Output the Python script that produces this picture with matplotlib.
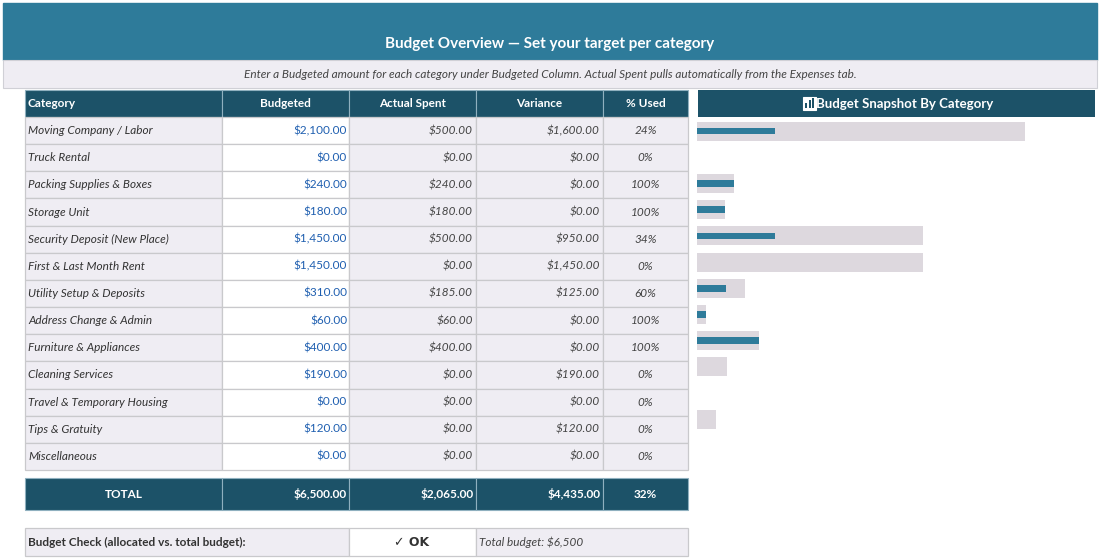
import matplotlib
matplotlib.use("Agg")
import matplotlib.pyplot as plt
from matplotlib.patches import Rectangle

plt.rcParams['font.family'] = ['Lato', 'DejaVu Sans']

categories = ["Moving Company / Labor", "Truck Rental", "Packing Supplies & Boxes", "Storage Unit",
              "Security Deposit (New Place)", "First & Last Month Rent", "Utility Setup & Deposits",
              "Address Change & Admin", "Furniture & Appliances", "Cleaning Services",
              "Travel & Temporary Housing", "Tips & Gratuity", "Miscellaneous"]
budgeted = [2100, 0, 240, 180, 1450, 1450, 310, 60, 400, 190, 0, 120, 0]
actual = [500, 0, 240, 180, 500, 0, 185, 60, 400, 0, 0, 0, 0]
variance = [1600, 0, 0, 0, 950, 1450, 125, 0, 0, 190, 0, 120, 0]
pct_used = ["24%", "0%", "100%", "100%", "34%", "0%", "60%", "100%", "100%", "0%", "0%", "0%", "0%"]
headers = ["Category", "Budgeted", "Actual Spent", "Variance", "% Used"]
totals = ["TOTAL", "$6,500.00", "$2,065.00", "$4,435.00", "32%"]

DARK = "#1c5268"; TEAL = "#2e7b9a"; LIGHT = "#efedf3"; GRID = "#c9c9cc"; GRAYBAR = "#ddd8de"

fig = plt.figure(figsize=(11, 5.6), dpi=100)
ax = fig.add_axes([0, 0, 1, 1])
ax.set_xlim(0, 1100); ax.set_ylim(560, 0); ax.axis('off')

def money(v):
    return f"${v:,.2f}"

ax.add_patch(Rectangle((3, 3), 1094, 57, color=TEAL))
ax.text(550, 44, "Budget Overview — Set your target per category", color="white", fontsize=11,
        fontweight='bold', ha='center', va='center')
ax.add_patch(Rectangle((3, 60), 1094, 28, facecolor=LIGHT, edgecolor="#d0d0d6", lw=0.8))
ax.text(550, 74, "Enter a Budgeted amount for each category under Budgeted Column. Actual Spent pulls automatically from the Expenses tab.",
        color="#444444", fontsize=8.5, style='italic', ha='center', va='center')

cols = [25, 222, 349, 476, 603, 688]
hy, hh = 90, 27
for i in range(5):
    ax.add_patch(Rectangle((cols[i], hy), cols[i+1]-cols[i], hh, facecolor=DARK, edgecolor="#8fb0bf", lw=0.8))
    if i == 0:
        ax.text(cols[0]+3, hy+hh/2, headers[i], color='white', fontsize=8.5, fontweight='bold', va='center')
    else:
        ax.text((cols[i]+cols[i+1])/2, hy+hh/2, headers[i], color='white', fontsize=8.5, fontweight='bold', ha='center', va='center')

rh = (470-117)/13
for r, cat in enumerate(categories):
    y = 117 + r*rh
    vals = [cat, money(budgeted[r]), money(actual[r]), money(variance[r]), pct_used[r]]
    for i in range(5):
        fc = "white" if i == 1 else LIGHT
        ax.add_patch(Rectangle((cols[i], y), cols[i+1]-cols[i], rh, facecolor=fc, edgecolor=GRID, lw=0.9))
        cy = y + rh/2
        if i == 0:
            ax.text(cols[0]+3, cy, vals[0], color="#333333", fontsize=8.5, style='italic', va='center')
        elif i == 1:
            ax.text(cols[2]-2, cy, vals[1], color="#1f5fb0", fontsize=8.5, ha='right', va='center')
        elif i == 4:
            ax.text((cols[4]+cols[5])/2, cy, vals[4], color="#444444", fontsize=8.5, style='italic', ha='center', va='center')
        else:
            ax.text(cols[i+1]-3, cy, vals[i], color="#444444", fontsize=8.5, style='italic', ha='right', va='center')

ty, th = 478, 32
for i in range(5):
    ax.add_patch(Rectangle((cols[i], ty), cols[i+1]-cols[i], th, facecolor=DARK, edgecolor="#8fb0bf", lw=0.8))
    if i in (0, 4):
        ax.text((cols[i]+cols[i+1])/2, ty+th/2, totals[i], color='white', fontsize=8.5, fontweight='bold', ha='center', va='center')
    else:
        ax.text(cols[i+1]-2, ty+th/2, totals[i], color='white', fontsize=8.5, fontweight='bold', ha='right', va='center')

by, bh = 528, 28
ax.add_patch(Rectangle((25, by), 324, bh, facecolor=LIGHT, edgecolor=GRID, lw=0.9))
ax.add_patch(Rectangle((349, by), 127, bh, facecolor="white", edgecolor=GRID, lw=0.9))
ax.add_patch(Rectangle((476, by), 212, bh, facecolor=LIGHT, edgecolor=GRID, lw=0.9))
ax.text(28, by+bh/2, "Budget Check (allocated vs. total budget):", color="#333333", fontsize=8.5, fontweight='bold', va='center')
ax.text(412, by+bh/2, "✓ OK", color="#333333", fontsize=9, fontweight='bold', ha='center', va='center',
        family=['DejaVu Sans'])
ax.text(479, by+bh/2, "Total budget: $6,500", color="#444444", fontsize=8.5, style='italic', va='center')

# bar panel header
ax.add_patch(Rectangle((698, hy), 397, hh, facecolor=DARK))
ax.text(897+8, hy+hh/2, "Budget Snapshot By Category", color='white', fontsize=9.5, fontweight='bold', ha='center', va='center')
ix, iy = 803, 97
ax.add_patch(Rectangle((ix, iy), 13, 13, facecolor='white', edgecolor='white', lw=0.8))
for k, hgt in enumerate([5, 8, 10]):
    ax.add_patch(Rectangle((ix+2+k*3.5, iy+11-hgt), 2.2, hgt, facecolor=DARK))

# bars
bx0, bx1 = 697, 1097
y0, y1 = 118, 118 + 13*26.2
bax = fig.add_axes([bx0/1100, 1-y1/560, (bx1-bx0)/1100, (y1-y0)/560])
bax.set_xlim(0, 400/0.1562)
bax.set_ylim(12.5, -0.5)
bax.axis('off')
pos = list(range(len(categories)))
bax.barh(pos, budgeted, height=0.73, color=GRAYBAR, left=0)
bax.barh(pos, actual, height=0.25, color=TEAL, left=0)

fig.savefig("out.png", dpi=100, facecolor="white")
